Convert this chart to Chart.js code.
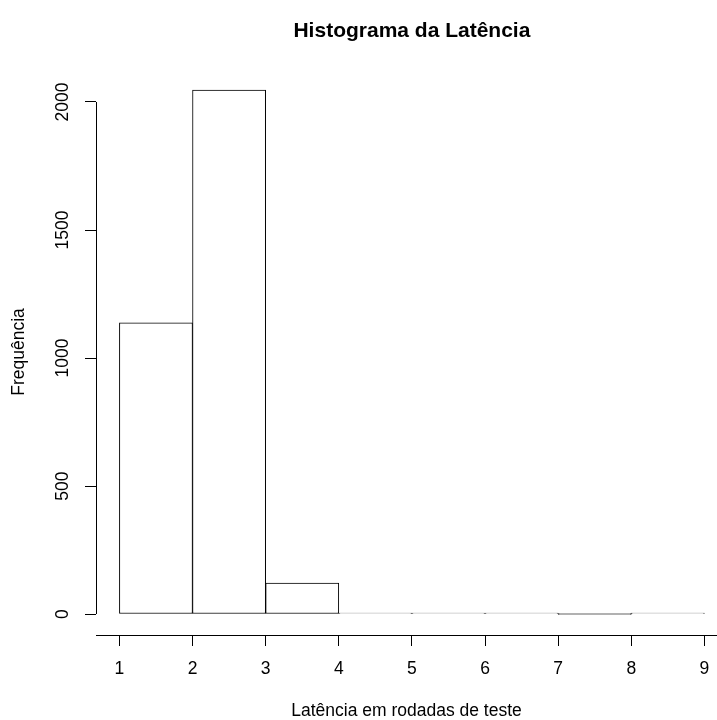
<!DOCTYPE html>
<html><head><meta charset="utf-8">
<script src="https://cdn.jsdelivr.net/npm/chart.js@4"></script>
<style>html,body{margin:0;padding:0;background:#fff;overflow:hidden}canvas{display:block}</style>
</head><body>
<canvas id="c" width="717" height="720"></canvas>
<script>
// ---- data ----
const breaks = [1, 2, 3, 4, 5, 6, 7, 8, 9];
const counts = [1137, 2047, 121, 3, 1, 1, 0, 1];
const xTickValues = [1, 2, 3, 4, 5, 6, 7, 8, 9];
const yTickValues = [0, 500, 1000, 1500, 2000];
const titleText = 'Histograma da Latência';
const xTitle = 'Latência em rodadas de teste';
const yTitle = 'Frequência';

// ---- style / layout ----
const FONT = "'Liberation Sans', Arial, Helvetica, sans-serif";
const AXIS_SIZE = 17.5;
const TITLE_SIZE = 21;
const yMaxCount = Math.max(...counts);
const yMin = -0.04 * yMaxCount, yMax = 1.04 * yMaxCount;
const xMin = breaks[0] - 0.04 * (breaks[breaks.length - 1] - breaks[0]);
const xMaxVisible = 9.172;

const points = counts.map((c, i) => ({ x: (breaks[i] + breaks[i + 1]) / 2, y: c }));

const rAxisPlugin = {
  id: 'rAxis',
  afterDraw(chart) {
    const { ctx, chartArea, scales: { x, y } } = chart;
    const x0 = Math.round(chartArea.left - 0.5) + 0.5;
    ctx.save();
    // y axis line spanning first..last tick (R style)
    ctx.strokeStyle = '#000';
    ctx.lineWidth = 1;
    ctx.beginPath();
    ctx.moveTo(x0, y.getPixelForValue(yTickValues[0]));
    ctx.lineTo(x0, y.getPixelForValue(yTickValues[yTickValues.length - 1]));
    ctx.stroke();
    // rotated y tick labels
    ctx.font = AXIS_SIZE + 'px ' + FONT;
    ctx.fillStyle = '#000';
    ctx.textAlign = 'center';
    ctx.textBaseline = 'middle';
    for (const v of yTickValues) {
      const py = y.getPixelForValue(v);
      ctx.save();
      ctx.translate(63.5, py);
      ctx.rotate(-Math.PI / 2);
      ctx.fillText(String(v), 0, 0);
      ctx.restore();
    }
    // main title centred over the plot region
    ctx.font = 'bold ' + TITLE_SIZE + 'px ' + FONT;
    const cx = x.getPixelForValue((breaks[0] + breaks[breaks.length - 1]) / 2);
    ctx.fillText(titleText, cx, 31);
    ctx.restore();
  }
};

new Chart(document.getElementById('c'), {
  type: 'bar',
  data: {
    datasets: [{
      data: points,
      backgroundColor: '#ffffff',
      borderColor: '#000000',
      borderWidth: 1,
      borderSkipped: false,
      minBarLength: 1,
      barPercentage: 1,
      categoryPercentage: 1,
      grouped: false
    }]
  },
  options: {
    responsive: false,
    animation: false,
    devicePixelRatio: 1,
    layout: { padding: { top: 69, left: 0, right: 0, bottom: 0 } },
    plugins: {
      legend: { display: false },
      tooltip: { enabled: false },
      title: { display: false }
    },
    scales: {
      x: {
        type: 'linear',
        offset: false,
        min: xMin,
        max: xMaxVisible,
        afterBuildTicks: s => { s.ticks = xTickValues.map(v => ({ value: v })); },
        afterFit: s => { s.height = 85; },
        grid: { offset: false, drawOnChartArea: false, drawTicks: true, tickLength: 11, color: '#000', lineWidth: 1 },
        border: { display: true, color: '#000', width: 1 },
        ticks: { color: '#000', font: { family: FONT, size: AXIS_SIZE, lineHeight: 2.63 }, padding: 0, maxRotation: 0, autoSkip: false },
        title: { display: true, text: xTitle, color: '#000', font: { family: FONT, size: AXIS_SIZE, lineHeight: 1 }, padding: { top: 0, bottom: 0 } }
      },
      y: {
        type: 'linear',
        min: yMin,
        max: yMax,
        afterBuildTicks: s => { s.ticks = yTickValues.map(v => ({ value: v })); },
        afterFit: s => { s.width = 96; },
        grid: { drawOnChartArea: false, drawTicks: true, tickLength: 11, color: '#000', lineWidth: 1 },
        border: { display: false },
        ticks: { display: false },
        title: { display: true, text: yTitle, color: '#000', font: { family: FONT, size: AXIS_SIZE, lineHeight: 1.2 }, padding: { top: 8.5, bottom: 0 } }
      }
    }
  },
  plugins: [rAxisPlugin]
});
</script>
</body></html>
